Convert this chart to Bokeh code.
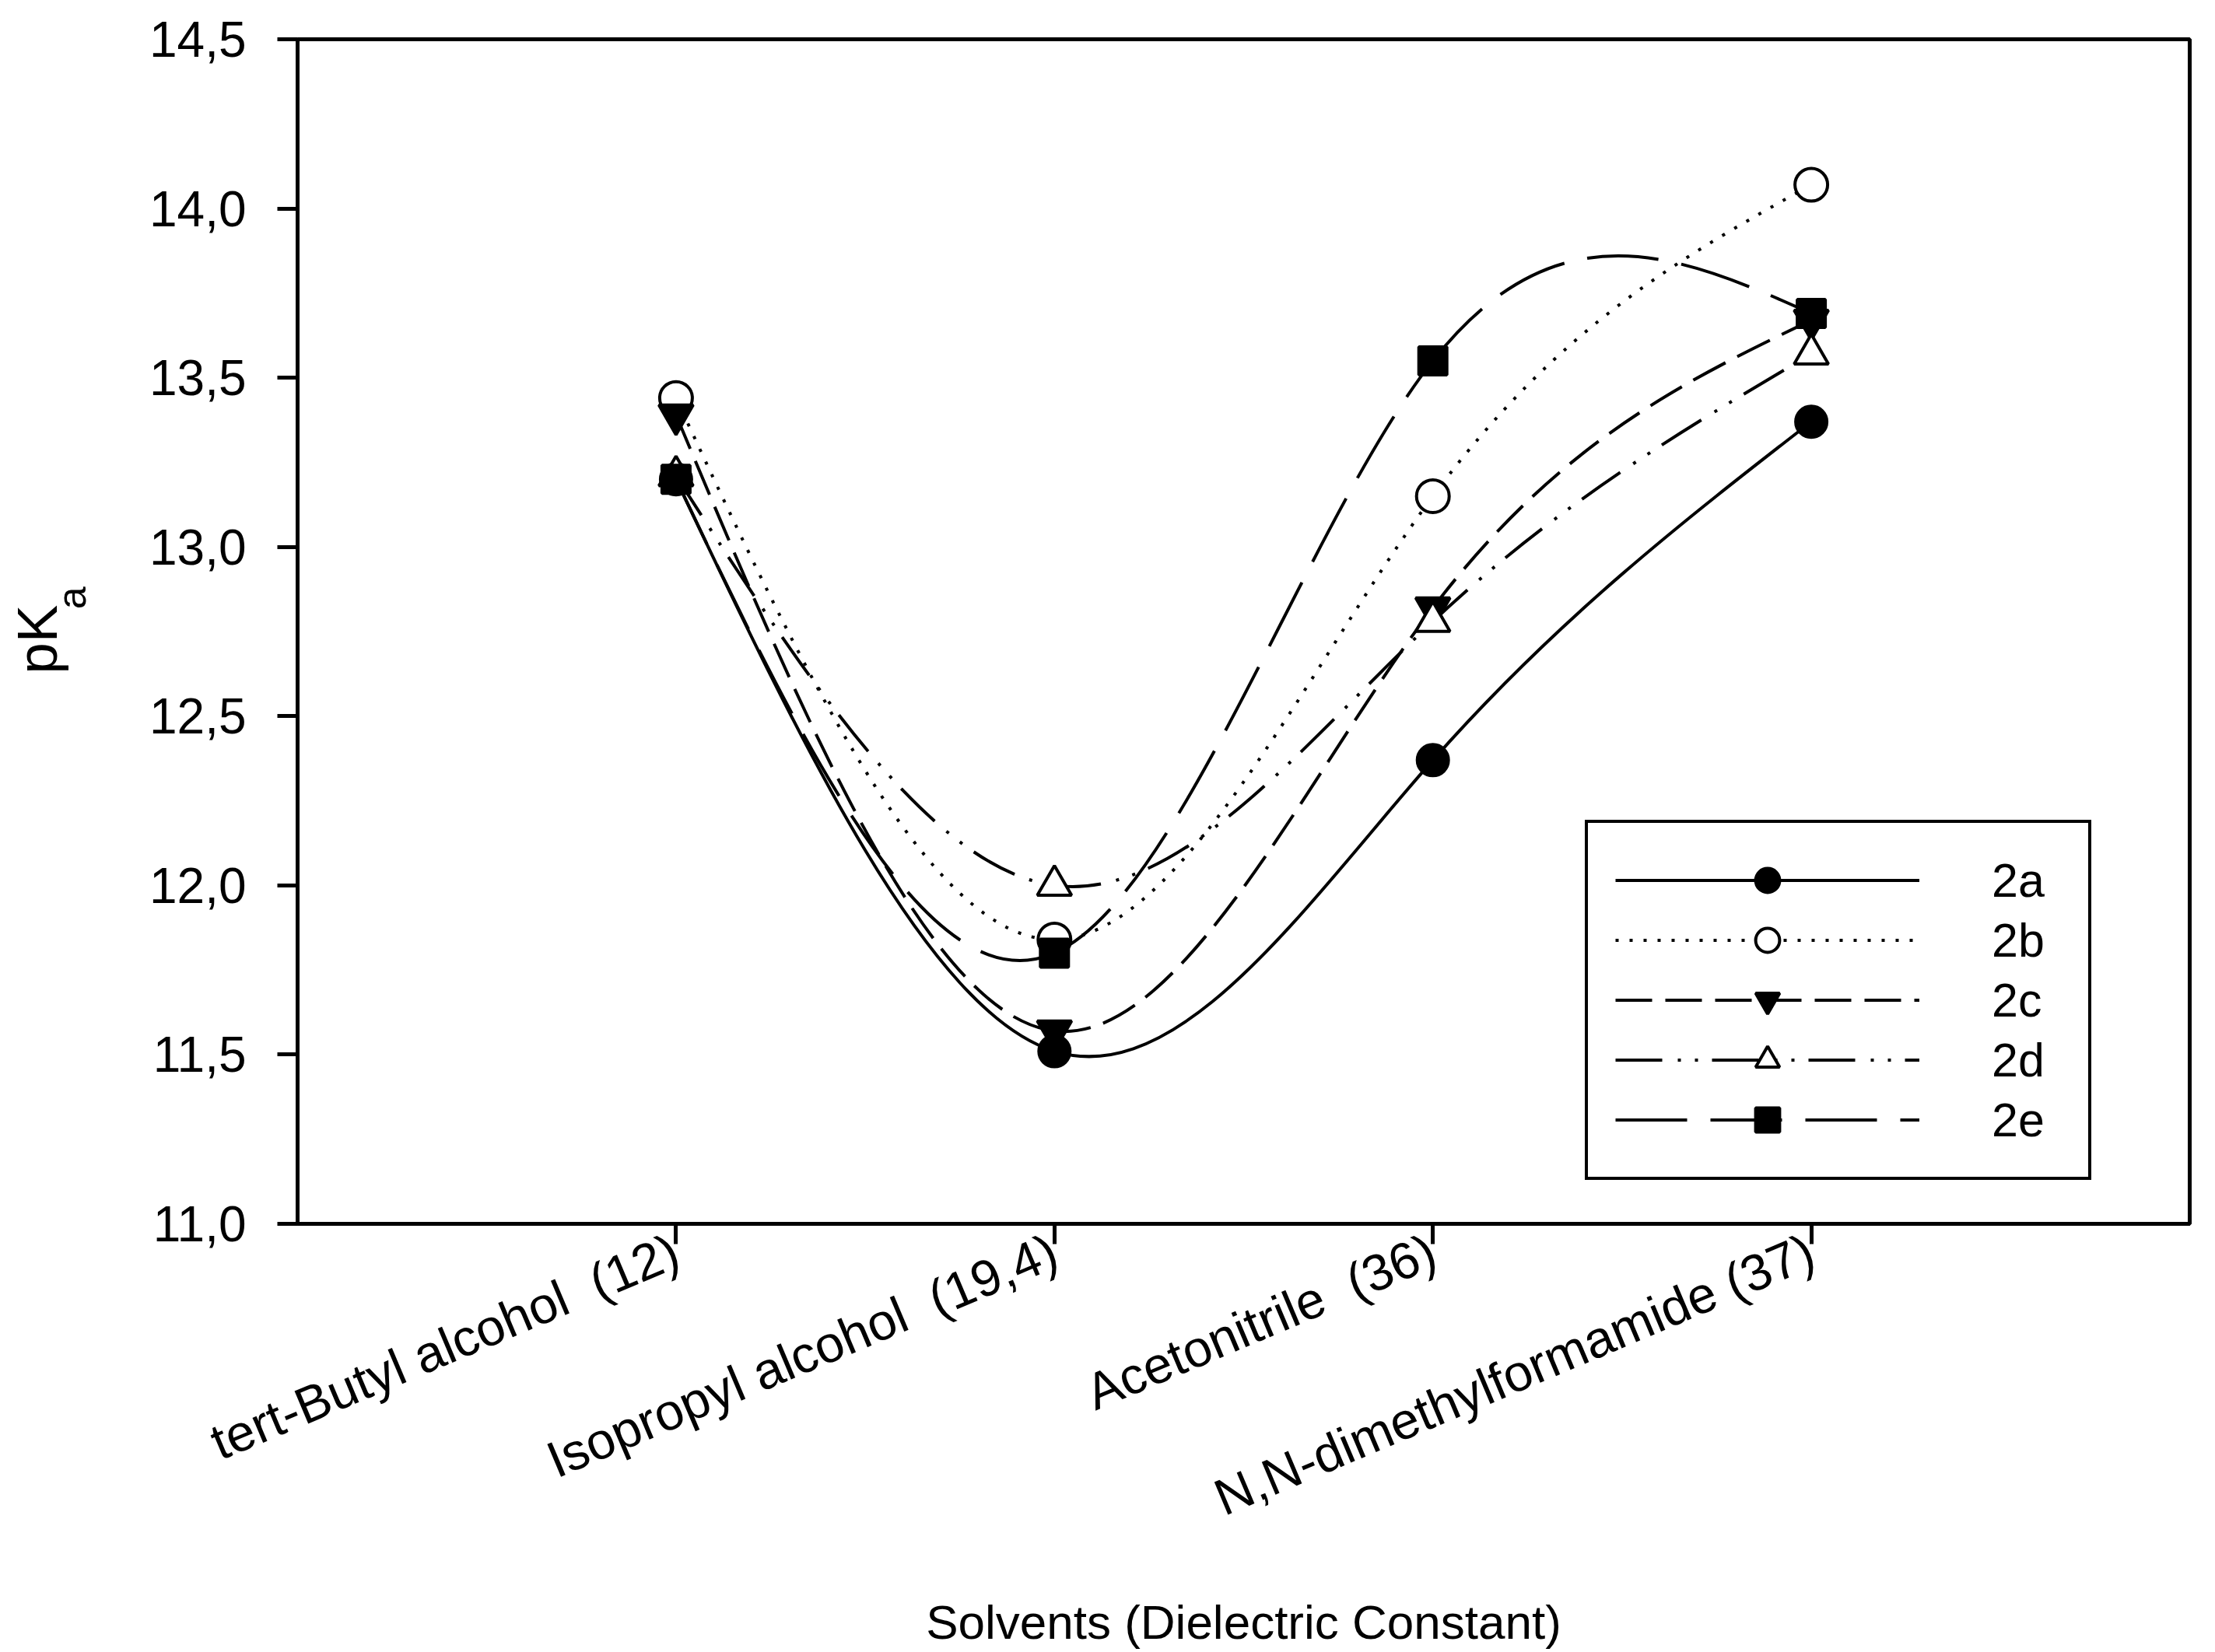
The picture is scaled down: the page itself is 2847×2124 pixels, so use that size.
import numpy as np
from bokeh.plotting import figure
from bokeh.models import (Range1d, FixedTicker, CustomJSTickFormatter,
                          LinearAxis, Legend, LegendItem)
from bokeh.embed import file_html
from bokeh.resources import INLINE

# ---------------- data ----------------
solvents = ["tert-Butyl alcohol \u00a0(12)", "Isopropyl alcohol \u00a0(19,4)",
            "Acetonitrile \u00a0(36)", "N,N-dimethylformamide (37)"]
solvent_pos = [1, 2, 3, 4]
pka_2a = [13.20, 11.51, 12.37, 13.37]
pka_2b = [13.44, 11.84, 13.15, 14.07]
pka_2c = [13.39, 11.57, 12.82, 13.67]
pka_2d = [13.21, 12.00, 12.78, 13.57]
pka_2e = [13.20, 11.80, 13.55, 13.69]
series_names = ["2a", "2b", "2c", "2d", "2e"]
y_ticks = [11.0, 11.5, 12.0, 12.5, 13.0, 13.5, 14.0, 14.5]

FONT = "Liberation Sans"


def natural_spline_bezier(xs, ys):
    """Natural cubic spline through the points, returned as cubic Bezier segments."""
    x = np.asarray(xs, float)
    y = np.asarray(ys, float)
    n = len(x)
    h = np.diff(x)
    A = np.zeros((n, n))
    b = np.zeros(n)
    A[0, 0] = 1.0
    A[-1, -1] = 1.0
    for i in range(1, n - 1):
        A[i, i - 1] = h[i - 1]
        A[i, i] = 2 * (h[i - 1] + h[i])
        A[i, i + 1] = h[i]
        b[i] = 6 * ((y[i + 1] - y[i]) / h[i] - (y[i] - y[i - 1]) / h[i - 1])
    M = np.linalg.solve(A, b)
    x0, y0, x1, y1, cx0, cy0, cx1, cy1 = ([] for _ in range(8))
    for i in range(n - 1):
        hi = h[i]
        slope = (y[i + 1] - y[i]) / hi
        d0 = slope - hi * (2 * M[i] + M[i + 1]) / 6
        d1 = slope + hi * (M[i] + 2 * M[i + 1]) / 6
        x0.append(x[i]); y0.append(y[i])
        x1.append(x[i + 1]); y1.append(y[i + 1])
        cx0.append(x[i] + hi / 3); cy0.append(y[i] + d0 * hi / 3)
        cx1.append(x[i + 1] - hi / 3); cy1.append(y[i + 1] - d1 * hi / 3)
    return dict(x0=x0, y0=y0, x1=x1, y1=y1, cx0=cx0, cy0=cy0, cx1=cx1, cy1=cy1)


p = figure(width=2835, height=2124, output_backend="svg", toolbar_location=None,
           x_range=Range1d(0, 5), y_range=Range1d(11.0, 14.5),
           min_border_left=382, min_border_right=21,
           min_border_top=50, min_border_bottom=551)
p.background_fill_color = "white"
p.border_fill_color = "white"
p.grid.visible = False
p.outline_line_color = "black"
p.outline_line_width = 5

# axes
for ax in (p.xaxis[0], p.yaxis[0]):
    ax.axis_line_width = 5
    ax.axis_line_color = "black"
    ax.major_tick_line_width = 5
    ax.major_tick_out = 26
    ax.major_tick_in = 0
    ax.minor_tick_line_color = None
    ax.major_label_text_font = FONT
    ax.major_label_text_color = "black"

p.yaxis.ticker = FixedTicker(ticks=y_ticks)
p.yaxis.formatter = CustomJSTickFormatter(code="return tick.toFixed(1).replace('.', ',');")
p.yaxis.major_label_text_font_size = "64px"
p.yaxis.major_label_standoff = 40

p.xaxis.ticker = FixedTicker(ticks=solvent_pos)
p.xaxis.major_label_overrides = {pos: lab for pos, lab in zip(solvent_pos, solvents)}
p.xaxis.major_label_text_font_size = "66px"
p.xaxis.major_label_orientation = 0.40
p.xaxis.major_label_standoff = 6
p.xaxis.axis_label = "Solvents (Dielectric Constant)"
p.xaxis.axis_label_text_font = FONT
p.xaxis.axis_label_text_font_size = "62px"
p.xaxis.axis_label_text_font_style = "normal"
p.xaxis.axis_label_text_color = "black"
p.xaxis.axis_label_standoff = 52


def title_axis(text, size, standoff):
    ax = LinearAxis(ticker=FixedTicker(ticks=[]), axis_line_color=None,
                    major_tick_out=0, major_tick_in=0,
                    minor_tick_out=0, minor_tick_in=0,
                    major_tick_line_color=None, minor_tick_line_color=None,
                    major_label_text_font_size="0px",
                    axis_label=text, axis_label_text_font=FONT,
                    axis_label_text_font_size=size,
                    axis_label_text_font_style="normal",
                    axis_label_text_color="black",
                    axis_label_standoff=standoff)
    p.add_layout(ax, "left")
    return ax


# y title "pKa": subscript "a" sits nearer the frame, so its axis comes first
title_axis("\u00a0" * 6 + "a", "52px", 68)
title_axis("pK\u00a0", "73px", -28)

# series
styles = {
    "2a": dict(marker="circle", fill="black", dash="solid", size=40),
    "2b": dict(marker="circle", fill="white", dash="4 14", size=42),
    "2c": dict(marker="inverted_triangle", fill="black", dash="47 17", size=44),
    "2d": dict(marker="triangle", fill="white", dash="60 20 4 18 4 18", size=44),
    "2e": dict(marker="square", fill="black", dash="92 30", size=36),
}
series_values = [pka_2a, pka_2b, pka_2c, pka_2d, pka_2e]

items = []
for name, vals in zip(series_names, series_values):
    st = styles[name]
    bz = p.bezier(source=natural_spline_bezier(solvent_pos, vals),
                  x0="x0", y0="y0", x1="x1", y1="y1",
                  cx0="cx0", cy0="cy0", cx1="cx1", cy1="cy1",
                  line_color="black", line_width=4, line_dash=st["dash"])
    sc = p.scatter(solvent_pos, vals, marker=st["marker"], size=st["size"],
                   fill_color=st["fill"], line_color="black", line_width=4)
    items.append(LegendItem(label=name, renderers=[bz, sc]))

legend = Legend(items=items, location=(1655, 56), margin=0, padding=35,
                spacing=0, glyph_height=77, glyph_width=391,
                label_standoff=93, label_width=89,
                label_text_font=FONT, label_text_font_size="61px",
                label_text_color="black", label_text_baseline="middle",
                border_line_color="black", border_line_width=4,
                border_line_alpha=1.0,
                background_fill_color="white", background_fill_alpha=1.0)
p.add_layout(legend)

open("out.html", "w").write(file_html(p, INLINE))
